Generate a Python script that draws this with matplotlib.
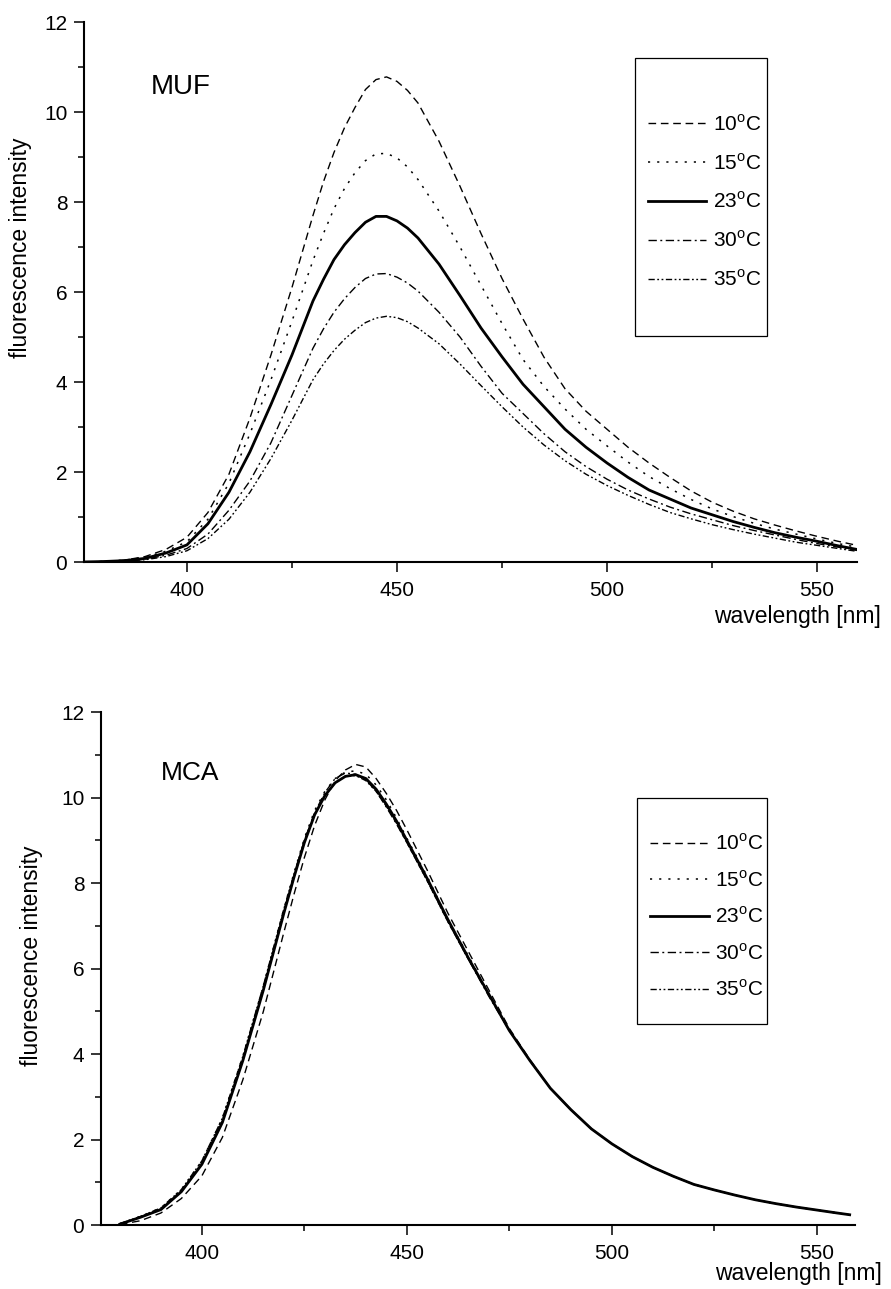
import matplotlib
matplotlib.use("Agg")
import matplotlib.pyplot as plt
from matplotlib.patches import Rectangle
from matplotlib.ticker import MultipleLocator

plt.rcParams["font.family"] = ["Liberation Sans", "DejaVu Sans"]
plt.rcParams["mathtext.fontset"] = "custom"
plt.rcParams["mathtext.rm"] = "Liberation Sans"

LABELS = ["10$^\\mathregular{o}$C", "15$^\\mathregular{o}$C", "23$^\\mathregular{o}$C",
          "30$^\\mathregular{o}$C", "35$^\\mathregular{o}$C"]

# MUF spectra (wavelength in nm, intensity)
wl_muf = [375, 380, 385, 390, 395, 400, 405, 410, 415, 420, 425, 430, 432.5, 435, 437.5,
          440, 442.5, 445, 447.5, 450, 452.5, 455, 460, 465, 470, 475, 480, 485, 490, 495,
          500, 505, 510, 515, 520, 525, 530, 535, 540, 545, 550, 555, 560]
muf_10 = [0.0, 0.01, 0.04, 0.12, 0.28, 0.55, 1.1, 1.95, 3.2, 4.6, 6.1, 7.7, 8.45, 9.1, 9.65,
          10.1, 10.5, 10.72, 10.78, 10.68, 10.48, 10.2, 9.35, 8.35, 7.3, 6.3, 5.4, 4.55, 3.85, 3.35,
          2.95, 2.55, 2.2, 1.88, 1.58, 1.33, 1.13, 0.96, 0.82, 0.69, 0.57, 0.46, 0.36]
muf_15 = [0.0, 0.01, 0.04, 0.1, 0.24, 0.45, 0.95, 1.75, 2.85, 4.05, 5.35, 6.7, 7.3, 7.85, 8.3,
          8.65, 8.92, 9.07, 9.08, 8.98, 8.78, 8.5, 7.8, 7.0, 6.15, 5.3, 4.5, 3.9, 3.4, 2.95,
          2.58, 2.22, 1.9, 1.63, 1.39, 1.18, 1.01, 0.86, 0.73, 0.62, 0.51, 0.41, 0.32]
muf_23 = [0.0, 0.01, 0.03, 0.08, 0.2, 0.38, 0.85, 1.55, 2.45, 3.5, 4.6, 5.8, 6.28, 6.72, 7.05,
          7.32, 7.55, 7.68, 7.68, 7.58, 7.42, 7.2, 6.62, 5.92, 5.2, 4.56, 3.95, 3.45, 2.95, 2.55,
          2.2, 1.88, 1.6, 1.4, 1.2, 1.05, 0.9, 0.77, 0.65, 0.55, 0.46, 0.36, 0.27]
muf_30 = [0.0, 0.01, 0.02, 0.06, 0.15, 0.3, 0.62, 1.15, 1.8, 2.65, 3.7, 4.75, 5.18, 5.55, 5.85,
          6.1, 6.3, 6.4, 6.41, 6.33, 6.2, 6.02, 5.55, 5.0, 4.35, 3.75, 3.3, 2.85, 2.45, 2.12,
          1.84, 1.6, 1.4, 1.22, 1.07, 0.94, 0.81, 0.7, 0.6, 0.5, 0.41, 0.33, 0.25]
muf_35 = [0.0, 0.01, 0.02, 0.05, 0.12, 0.25, 0.52, 0.95, 1.55, 2.3, 3.15, 4.05, 4.4, 4.7, 4.95,
          5.15, 5.32, 5.42, 5.46, 5.43, 5.34, 5.2, 4.85, 4.4, 3.92, 3.45, 3.0, 2.6, 2.25, 1.95,
          1.7, 1.48, 1.28, 1.1, 0.96, 0.83, 0.72, 0.62, 0.53, 0.44, 0.37, 0.3, 0.23]

# MCA spectra
wl_mca = [380, 385, 390, 395, 400, 405, 410, 415, 420, 422.5, 425, 427.5, 430, 432.5, 435,
          437.5, 440, 442.5, 445, 447.5, 450, 455, 460, 465, 470, 475, 480, 485, 490, 495,
          500, 505, 510, 515, 520, 525, 530, 535, 540, 545, 550, 555, 558]
mca_10 = [0.01, 0.1, 0.28, 0.62, 1.15, 2.05, 3.4, 5.0, 6.85, 7.75, 8.6, 9.35, 9.95, 10.4, 10.65,
          10.78, 10.72, 10.45, 10.1, 9.7, 9.25, 8.3, 7.3, 6.4, 5.5, 4.6, 3.87, 3.2, 2.7, 2.25,
          1.9, 1.6, 1.35, 1.14, 0.95, 0.82, 0.7, 0.59, 0.5, 0.42, 0.35, 0.28, 0.24]
mca_15 = [0.03, 0.2, 0.4, 0.83, 1.5, 2.5, 3.95, 5.6, 7.4, 8.25, 9.05, 9.7, 10.15, 10.45, 10.6,
          10.63, 10.55, 10.3, 9.95, 9.52, 9.05, 8.15, 7.15, 6.3, 5.4, 4.55, 3.85, 3.2, 2.7, 2.25,
          1.9, 1.6, 1.35, 1.14, 0.95, 0.82, 0.7, 0.59, 0.5, 0.42, 0.35, 0.28, 0.24]
mca_23 = [0.02, 0.18, 0.36, 0.78, 1.42, 2.4, 3.85, 5.5, 7.3, 8.15, 8.95, 9.6, 10.05, 10.35, 10.5,
          10.54, 10.45, 10.2, 9.85, 9.45, 9.0, 8.1, 7.15, 6.25, 5.4, 4.55, 3.85, 3.2, 2.7, 2.25,
          1.9, 1.6, 1.35, 1.14, 0.95, 0.82, 0.7, 0.59, 0.5, 0.42, 0.35, 0.28, 0.24]
mca_30 = [0.03, 0.19, 0.38, 0.8, 1.45, 2.45, 3.9, 5.55, 7.35, 8.2, 9.0, 9.65, 10.12, 10.45, 10.58,
          10.55, 10.42, 10.15, 9.78, 9.38, 8.95, 8.05, 7.1, 6.22, 5.35, 4.55, 3.85, 3.2, 2.7, 2.25,
          1.9, 1.6, 1.35, 1.14, 0.95, 0.82, 0.7, 0.59, 0.5, 0.42, 0.35, 0.28, 0.24]
mca_35 = [0.03, 0.2, 0.4, 0.83, 1.5, 2.5, 3.95, 5.6, 7.4, 8.22, 9.0, 9.62, 10.05, 10.35, 10.5,
          10.52, 10.4, 10.15, 9.8, 9.4, 8.95, 8.05, 7.1, 6.22, 5.38, 4.55, 3.85, 3.2, 2.7, 2.25,
          1.9, 1.6, 1.35, 1.14, 0.95, 0.82, 0.7, 0.59, 0.5, 0.42, 0.35, 0.28, 0.24]

STYLES = [
    dict(lw=1.0, dashes=(5.5, 3.4)),
    dict(lw=1.1, dashes=(1.4, 4.6)),
    dict(lw=2.0, linestyle="-"),
    dict(lw=1.0, dashes=(6, 2.5, 1.4, 2.5)),
    dict(lw=1.0, dashes=(4.5, 1.8, 1.3, 1.8, 1.3, 1.8)),
]


def draw_panel(ax, wl, series, name, name_xy, name_size, xlim, leg_anchor, box, spacing,
               ylab_xy, xlab_xy):
    # draw solid last so it sits on top
    order = [0, 1, 3, 4, 2]
    handles = [None] * 5
    for i in order:
        handles[i], = ax.plot(wl, series[i], color="black", label=LABELS[i], **STYLES[i])

    ax.set_xlim(*xlim)
    ax.set_ylim(0, 12)
    ax.xaxis.set_major_locator(MultipleLocator(50))
    ax.xaxis.set_minor_locator(MultipleLocator(25))
    ax.yaxis.set_major_locator(MultipleLocator(2))
    ax.yaxis.set_minor_locator(MultipleLocator(1))
    for s in ["top", "right"]:
        ax.spines[s].set_visible(False)
    for s in ["left", "bottom"]:
        ax.spines[s].set_linewidth(1.5)
    ax.tick_params(which="major", direction="out", length=7.5, width=1.1, labelsize=15)
    ax.tick_params(which="minor", direction="out", length=4.5, width=1.1)
    ax.tick_params(axis="x", which="major", pad=6)
    ax.tick_params(axis="y", which="major", pad=4.5)

    ax.set_ylabel("fluorescence intensity", fontsize=16.5)
    ax.yaxis.set_label_coords(*ylab_xy)
    ax.set_xlabel("wavelength [nm]", fontsize=16.5, ha="right")
    ax.xaxis.set_label_coords(*xlab_xy)

    ax.text(name_xy[0], name_xy[1], name, fontsize=name_size, ha="left", va="center")

    ax.add_patch(Rectangle(box[:2], box[2], box[3], transform=ax.transAxes,
                           fill=False, edgecolor="black", lw=0.9, clip_on=False))
    ax.legend(handles=handles, loc="upper left", bbox_to_anchor=leg_anchor,
              frameon=False, borderpad=0, borderaxespad=0, handlelength=2.83,
              handletextpad=0.29, labelspacing=spacing, fontsize=15)


fig = plt.figure(figsize=(8.91, 12.89), dpi=100)
ax1 = fig.add_axes([0.09428, 0.56400, 0.86756, 0.41893])
ax2 = fig.add_axes([0.11336, 0.04965, 0.84624, 0.39775])

draw_panel(ax1, wl_muf, [muf_10, muf_15, muf_23, muf_30, muf_35], "MUF", (391.5, 10.55), 20,
           (375.5, 559.5), (0.729, 0.830), (0.7128, 0.4185, 0.1708, 0.5143), 0.87,
           (-0.067, 0.582), (1.031, -0.08))
draw_panel(ax2, wl_mca, [mca_10, mca_15, mca_23, mca_30, mca_35], "MCA", (390.1, 10.57), 19,
           (375.4, 559.3), (0.728, 0.764), (0.7113, 0.3912, 0.1720, 0.4425), 0.76,
           (-0.077, 0.525), (1.036, -0.072))

fig.savefig("out.png", dpi=100)
